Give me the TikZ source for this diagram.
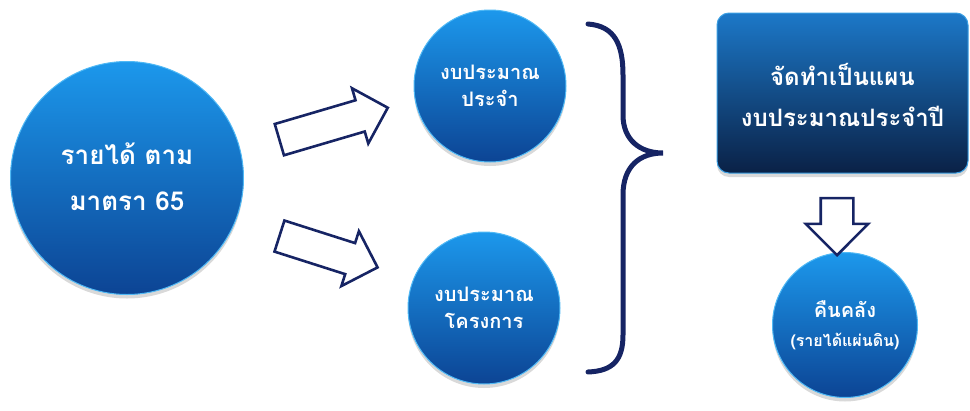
\documentclass[tikz,border=0pt]{standalone}
\usepackage{fontspec}
\newfontfamily\thaifont[Script=Thai]{Loma}
\usetikzlibrary{shapes.arrows,shadows}
\definecolor{navy}{RGB}{22,36,100}
\definecolor{bluetop}{RGB}{28,152,236}
\definecolor{bluebot}{RGB}{12,68,148}
\definecolor{recttop}{RGB}{28,120,200}
\definecolor{rectbot}{RGB}{10,33,70}
\definecolor{rim}{RGB}{80,185,245}
\tikzset{
  ball/.style={circle, inner sep=0pt, top color=bluetop, bottom color=bluebot,
    draw=rim, line width=1pt,
    drop shadow={shadow xshift=0pt, shadow yshift=-4pt, opacity=0.3},
    text=white, align=center},
  plan/.style={rectangle, rounded corners=12pt, inner sep=0pt,
    top color=recttop, bottom color=rectbot, draw=rim!60!recttop, line width=1pt,
    drop shadow={shadow xshift=0pt, shadow yshift=-4pt, opacity=0.3},
    text=white, align=center},
  blockarrow/.style={single arrow, draw=navy, line width=2.6pt, fill=white,
    inner xsep=0pt, inner ysep=15pt, single arrow head extend=12.5pt,
    minimum height=#1, anchor=center},
  bracepath/.style={draw=navy, line width=5pt, line cap=round},
}
\begin{document}
\begin{tikzpicture}[x=1pt,y=-1pt]
\useasboundingbox (0,0) rectangle (970,410);
% circles
\node[ball, minimum size=233pt, font=\thaifont\bfseries\fontsize{26}{37}\selectfont] (income) at (127,178) {\raisebox{-8pt}[0pt][0pt]{\begin{tabular}{@{}c@{}}รายได้ ตาม\\[9pt]มาตรา 65\end{tabular}}};
\node[ball, minimum size=152pt, font=\thaifont\bfseries\fontsize{20}{27}\selectfont] (regular) at (490,86) {งบประมาณ\\ประจำ};
\node[ball, minimum size=152pt, font=\thaifont\bfseries\fontsize{20}{27}\selectfont] (project) at (484,308) {งบประมาณ\\โครงการ};
\node[plan, minimum width=251pt, minimum height=160pt, font=\thaifont\bfseries\fontsize{24}{35}\selectfont] (plan) at (842.5,93) {\raisebox{-12pt}[0pt][0pt]{\begin{tabular}{@{}c@{}}จัดทำเป็นแผน\\[6pt]งบประมาณประจำปี\end{tabular}}};
\node[ball, minimum size=145pt, font=\thaifont\bfseries\fontsize{20}{29}\selectfont] (treasury) at (845,325) {\raisebox{-6pt}[0pt][0pt]{\begin{tabular}{@{}c@{}}คืนคลัง\\[0pt]{\fontsize{16}{20}\selectfont(รายได้แผ่นดิน)}\end{tabular}}};
% block arrows
\node[blockarrow=113pt, rotate=16.4] (a1) at (325.75,126) {};
\node[blockarrow=103pt, rotate=-17.7] (a2) at (320.75,249.25) {};
\node[blockarrow=57pt, rotate=-90, single arrow head extend=15pt] (a3) at (837,218.5) {};
% brace
\coordinate (btop) at (588,24);
\coordinate (btip) at (663,153);
\coordinate (bbot) at (588,372);
\path[bracepath] (btop) .. controls (615,26) and (623,45) .. (623,75) -- (623,115)
  .. controls (623,140) and (640,153) .. (btip)
  .. controls (640,153) and (623,166) .. (623,195) -- (623,335)
  .. controls (623,360) and (613,371) .. (bbot);
\end{tikzpicture}
\end{document}
